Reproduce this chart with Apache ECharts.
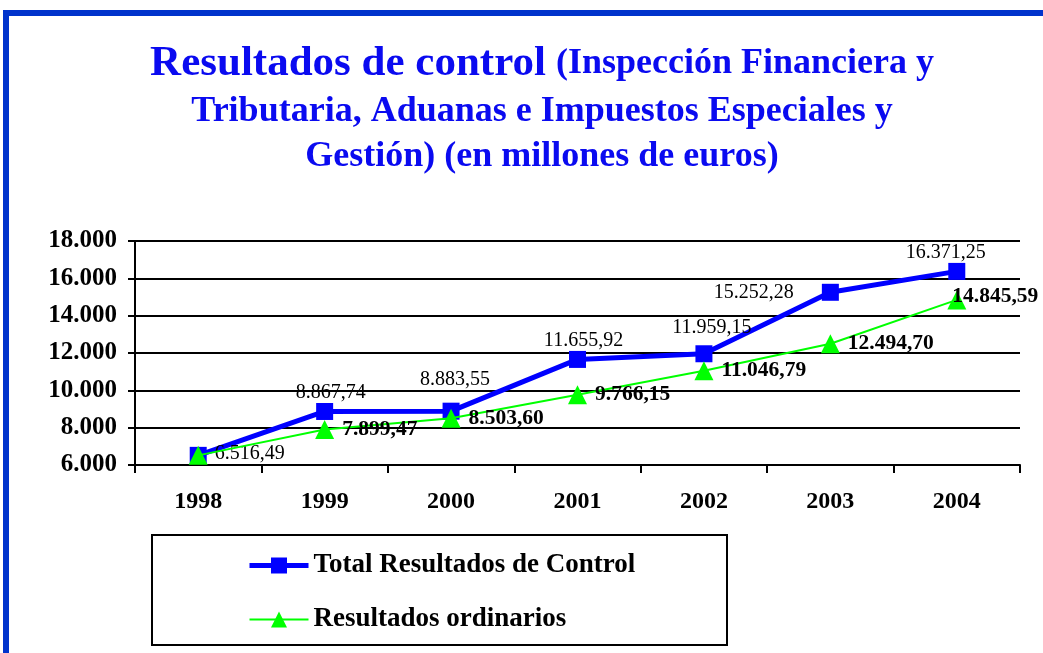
<!DOCTYPE html>
<html>
<head>
<meta charset="utf-8">
<script src="https://cdn.jsdelivr.net/npm/echarts@6/dist/echarts.min.js"></script>
<style>
  html, body { margin: 0; padding: 0; background: #fff; }
  #main { width: 1043px; height: 653px; }
</style>
</head>
<body>
<div id="main"></div>
<script>
// data
const years = ['1998', '1999', '2000', '2001', '2002', '2003', '2004']
const totalControl = [6516.49, 8867.74, 8883.55, 11655.92, 11959.15, 15252.28, 16371.25]
const ordinarios = [6516.49, 7899.47, 8503.60, 9766.15, 11046.79, 12494.70, 14845.59]
const yTicks = { min: 6000, max: 18000, interval: 2000 }

const serif = '"Liberation Serif", "DejaVu Serif", serif'
const titleBlue = '#0a0af0'

// 1.234,56 style numbers
function fmtNum(v, dec) {
  const parts = v.toFixed(dec).split('.')
  const int = parts[0].replace(/\B(?=(\d{3})+(?!\d))/g, '.')
  return dec ? int + ',' + parts[1] : int
}

var chart = echarts.init(document.getElementById('main'))

// per-point label placement for the blue series
const totalData = totalControl.map(function (v, i) {
  let label = {}
  if (i === 0) label = { position: 'right', distance: 8, offset: [0, -2] }
  if (i === 2) label = { offset: [4, -13] }
  if (i === 4) label = { offset: [8, -8] }
  if (i === 5) label = { position: 'left', distance: 28, offset: [0, 0] }
  if (i === 6) label = { offset: [-11, 0] }
  return { value: v, label: label }
})
// first point is shared with the blue series, only one label there
const ordData = ordinarios.map(function (v, i) {
  if (i === 0) return { value: v, label: { show: false } }
  if (i === 6) return { value: v, label: { offset: [-22, -3] } }
  return v
})

const titleCenter = 537

var option = {
  animation: false,
  backgroundColor: '#fff',
  title: [
    {
      left: titleCenter, textAlign: 'center', top: 37,
      text: '{a|Resultados de control} {b|(Inspección Financiera y}',
      textStyle: {
        fontSize: 36,
        rich: {
          a: { fontFamily: serif, fontWeight: 'bold', fontSize: 43, color: titleBlue },
          b: { fontFamily: serif, fontWeight: 'bold', fontSize: 36, color: titleBlue }
        }
      }
    },
    {
      left: titleCenter, textAlign: 'center', top: 89,
      text: 'Tributaria, Aduanas e Impuestos Especiales y',
      textStyle: { fontFamily: serif, fontWeight: 'bold', fontSize: 36, color: titleBlue }
    },
    {
      left: titleCenter, textAlign: 'center', top: 134,
      text: 'Gestión) (en millones de euros)',
      textStyle: { fontFamily: serif, fontWeight: 'bold', fontSize: 36, color: titleBlue }
    }
  ],
  graphic: [
    // blue frame (top and left)
    { type: 'line', shape: { x1: 3, y1: 13, x2: 1043, y2: 13 }, style: { stroke: '#0033cc', lineWidth: 6 } },
    { type: 'line', shape: { x1: 6, y1: 10, x2: 6, y2: 653 }, style: { stroke: '#0033cc', lineWidth: 6 } },
    // legend box
    { type: 'rect', shape: { x: 152, y: 535, width: 575, height: 110 }, style: { fill: 'none', stroke: '#000', lineWidth: 2 } }
  ],
  legend: {
    orient: 'vertical',
    left: 247,
    top: 552,
    padding: 0,
    itemWidth: 59,
    itemHeight: 20,
    itemGap: 27,
    textStyle: { fontFamily: serif, fontWeight: 'bold', fontSize: 27, color: '#000', lineHeight: 27 },
    data: [
      { name: 'Total Resultados de Control', lineStyle: { width: 5 } },
      { name: 'Resultados ordinarios', lineStyle: { width: 2 } }
    ]
  },
  grid: { left: 135, right: 23, top: 241, bottom: 188 },
  xAxis: {
    type: 'category',
    data: years,
    boundaryGap: true,
    axisLine: { lineStyle: { color: '#000', width: 2 } },
    axisTick: { show: true, length: 8, lineStyle: { color: '#000', width: 2 } },
    axisLabel: { margin: 25, fontFamily: serif, fontWeight: 'bold', fontSize: 24, color: '#000' }
  },
  yAxis: {
    type: 'value',
    min: yTicks.min,
    max: yTicks.max,
    interval: yTicks.interval,
    axisLine: { show: true, lineStyle: { color: '#000', width: 2 } },
    axisTick: { show: true, length: 7, lineStyle: { color: '#000', width: 2 } },
    splitLine: { lineStyle: { color: '#000', width: 2 } },
    axisLabel: {
      margin: 18, fontFamily: serif, fontWeight: 'bold', fontSize: 25, color: '#000',
      formatter: function (v) { return fmtNum(v, 0) }
    }
  },
  series: [
    {
      name: 'Total Resultados de Control',
      type: 'line',
      data: totalData,
      symbol: 'rect',
      symbolSize: 17,
      itemStyle: { color: '#0000ff' },
      lineStyle: { color: '#0000ff', width: 5 },
      label: {
        show: true, position: 'top', distance: 0, offset: [6, 0],
        fontFamily: serif, fontSize: 20, color: '#000',
        formatter: function (p) { return fmtNum(p.value, 2) }
      },
      z: 2
    },
    {
      name: 'Resultados ordinarios',
      type: 'line',
      data: ordData,
      symbol: 'triangle',
      symbolSize: 19,
      itemStyle: { color: '#00ff00' },
      lineStyle: { color: '#00ff00', width: 2 },
      label: {
        show: true, position: 'right', distance: 8,
        fontFamily: serif, fontWeight: 'bold', fontSize: 21.5, color: '#000',
        formatter: function (p) { return fmtNum(p.value, 2) }
      },
      z: 3
    }
  ]
}

option && chart.setOption(option)
</script>
</body>
</html>
